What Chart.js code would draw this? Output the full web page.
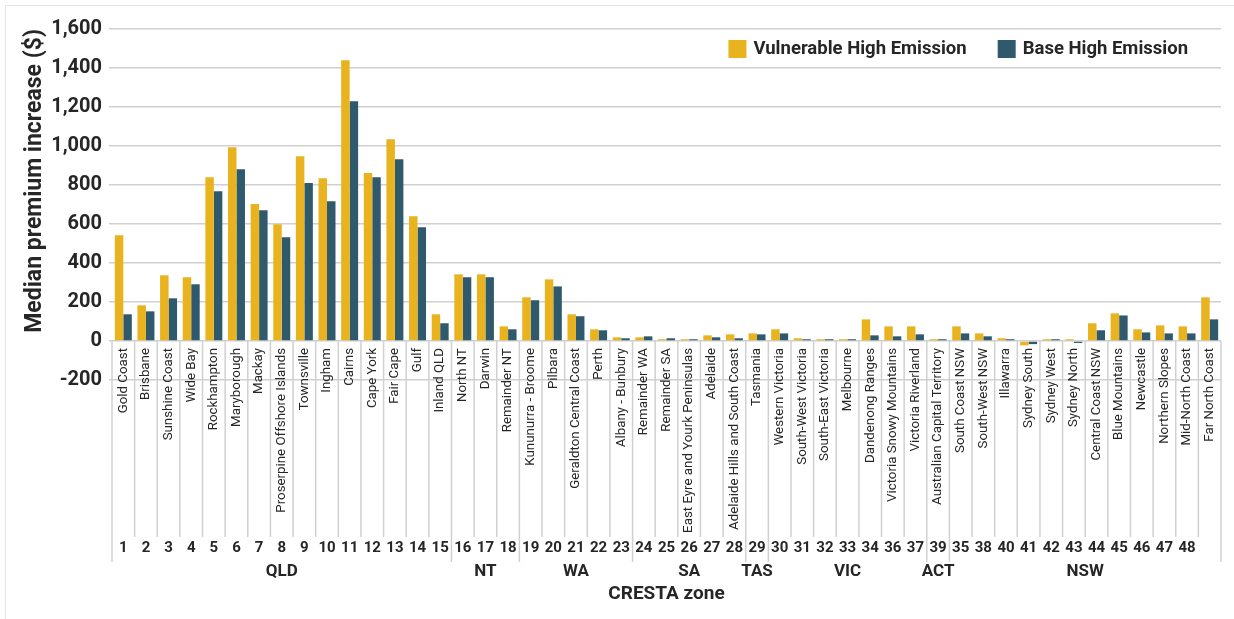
<!DOCTYPE html>
<html>
<head>
<meta charset="utf-8">
<script src="https://cdn.jsdelivr.net/npm/chart.js@4.4.1/dist/chart.umd.min.js"></script>
<style>
  html, body { margin: 0; padding: 0; background: #fff; }
  #wrap { position: relative; width: 1234px; height: 619px; }
</style>
</head>
<body>
<div id="wrap"><canvas id="myChart"></canvas></div>
<script>
// CRESTA zones, in chart order
var zoneNames = ['Gold Coast', 'Brisbane', 'Sunshine Coast', 'Wide Bay', 'Rockhampton', 'Maryborough', 'Mackay',
    'Proserpine Offshore Islands', 'Townsville', 'Ingham', 'Cairns', 'Cape York', 'Fair Cape', 'Gulf', 'Inland QLD',
    'North NT', 'Darwin', 'Remainder NT', 'Kununurra - Broome', 'Pilbara', 'Geraldton Central Coast', 'Perth',
    'Albany - Bunbury', 'Remainder WA', 'Remainder SA', 'East Eyre and Yourk Peninsulas', 'Adelaide',
    'Adelaide Hills and South Coast', 'Tasmania', 'Western Victoria', 'South-West Victoria', 'South-East Victoria',
    'Melbourne', 'Dandenong Ranges', 'Victoria Snowy Mountains', 'Victoria Riverland', 'Australian Capital Territory',
    'South Coast NSW', 'South-West NSW', 'Illawarra', 'Sydney South', 'Sydney West', 'Sydney North',
    'Central Coast NSW', 'Blue Mountains', 'Newcastle', 'Northern Slopes', 'Mid-North Coast', 'Far North Coast'];

var zoneNumbers = ['1', '2', '3', '4', '5', '6', '7', '8', '9', '10', '11', '12', '13', '14', '15', '16', '17', '18',
    '19', '20', '21', '22', '23', '24', '25', '26', '27', '28', '29', '30', '31', '32', '33', '34', '36', '37', '39',
    '35', '38', '40', '41', '42', '43', '44', '45', '46', '47', '48', ''];

// states: name + how many zones they cover
var stateNames = ['QLD', 'NT', 'WA', 'SA', 'TAS', 'VIC', 'ACT', 'NSW'];
var stateCounts = [15, 3, 5, 5, 1, 7, 1, 12];

var vulnerableHigh = [542, 183, 337, 327, 840, 994, 702, 599, 948, 835, 1440, 861, 1035, 640, 137,
    342, 342, 75, 224, 316, 137, 60, 19, 19, 9, 9, 29, 34, 39, 60, 14, 9, 9, 111, 75, 75, 9,
    75, 39, 14, -22, 9, 9, 91, 142, 60, 80, 75, 224];
var baseHigh = [137, 152, 219, 291, 768, 881, 671, 532, 810, 717, 1230, 840, 932, 583, 91,
    327, 327, 60, 209, 280, 127, 55, 14, 24, 14, 9, 19, 14, 34, 39, 9, 9, 9, 29, 24, 34, 9,
    39, 24, 9, -16, 9, -10, 55, 131, 44, 39, 39, 111];

var yTicks = { min: -200, max: 1600, step: 200 };

var textColor = '#262626';
var lineColor = '#d0d0d0';

// zone numbers, state groups and separator lines under the rotated names
var zoneAxis = {
    id: 'zoneAxis',
    beforeDraw: function(chart) {
        var ctx = chart.ctx;
        ctx.save();
        ctx.strokeStyle = '#e4e4e4';
        ctx.lineWidth = 1;
        ctx.strokeRect(5.5, 5.5, chart.width - 3, chart.height - 3);
        ctx.restore();
    },
    beforeDatasetsDraw: function(chart) {
        var ctx = chart.ctx, x = chart.scales.x, y = chart.scales.y;
        var zeroY = y.getPixelForValue(0);
        var bounds = [0], acc = 0;
        stateCounts.forEach(function(c) { acc += c; bounds.push(acc); });

        ctx.save();
        ctx.strokeStyle = lineColor;
        ctx.lineWidth = 1.5;
        for (var i = 0; i <= zoneNames.length; i++) {
            var px = x.getPixelForValue(i - 0.5);
            var long = bounds.indexOf(i) >= 0;
            ctx.beginPath();
            ctx.moveTo(px, zeroY);
            ctx.lineTo(px, zeroY + (long ? 221 : 196));
            ctx.stroke();
        }

        ctx.fillStyle = textColor;
        ctx.textAlign = 'center';
        ctx.textBaseline = 'middle';
        ctx.font = 'bold 15px Roboto';
        zoneNumbers.forEach(function(n, i) {
            ctx.fillText(n, x.getPixelForValue(i), zeroY + 207);
        });

        ctx.font = 'bold 17px Roboto';
        stateNames.forEach(function(s, k) {
            var mid = (bounds[k] + bounds[k + 1] - 1) / 2;
            ctx.fillText(s, x.getPixelForValue(mid), zeroY + 231);
        });
        ctx.restore();
    }
};

// legend sitting inside the top right of the plot
var cornerLegend = {
    id: 'cornerLegend',
    afterDraw: function(chart) {
        var ctx = chart.ctx, area = chart.chartArea;
        var right = area.right - 33, cy = area.top + 20;
        ctx.save();
        ctx.font = 'bold 18.5px Roboto';
        ctx.textBaseline = 'middle';
        ctx.textAlign = 'left';
        chart.data.datasets.slice().reverse().forEach(function(ds) {
            var w = ctx.measureText(ds.label).width;
            var tx = right - w;
            ctx.fillStyle = textColor;
            ctx.fillText(ds.label, tx, cy);
            ctx.fillStyle = ds.backgroundColor;
            ctx.fillRect(tx - 25, cy - 9, 18, 18);
            right = tx - 25 - 31;
        });
        ctx.restore();
    }
};

var ctx = document.getElementById('myChart').getContext('2d');
var myChart = new Chart(ctx, {
    type: 'bar',
    data: {
        labels: zoneNames,
        datasets: [{
            label: 'Vulnerable High Emission',
            data: vulnerableHigh,
            backgroundColor: '#E9B320',
            categoryPercentage: 0.75,
            barPercentage: 1.0
        }, {
            label: 'Base High Emission',
            data: baseHigh,
            backgroundColor: '#2F5A6E',
            categoryPercentage: 0.75,
            barPercentage: 1.0
        }]
    },
    options: {
        responsive: true, maintainAspectRatio: false,
        animation: false,
        layout: { padding: { left: 10, top: 29, right: 13, bottom: 239 } },
        plugins: {
            legend: { display: false },
            tooltip: { enabled: false }
        },
        scales: {
            x: {
                position: { y: 0 },   // category axis crosses at zero, names hang below it
                grid: { display: false, drawTicks: false },
                border: { display: false },
                ticks: {
                    autoSkip: false, minRotation: 90, maxRotation: 90,
                    padding: 7,
                    color: textColor,
                    font: { family: 'Roboto', size: 13.3 }
                },
                title: {
                    display: true, text: 'CRESTA zone', color: textColor,
                    font: { family: 'Roboto', size: 19, weight: 'bold' },
                    padding: 0
                },
                afterFit: function(scale) { scale.height = 265; }
            },
            y: {
                min: yTicks.min, max: yTicks.max,
                border: { display: false },
                grid: { color: lineColor, lineWidth: 1.5, tickLength: 3 },
                ticks: {
                    stepSize: yTicks.step, padding: 7, color: textColor,
                    font: { family: 'Roboto', size: 20, weight: 'bold' }
                },
                title: {
                    display: true, text: 'Median premium increase ($)', align: 'end', color: textColor,
                    font: { family: 'Roboto', size: 23, weight: 'bold' },
                    padding: { top: 11, bottom: 0 }
                },
                afterFit: function(scale) { scale.width = 102; }
            }
        }
    },
    plugins: [zoneAxis, cornerLegend]
});
</script>
</body>
</html>
